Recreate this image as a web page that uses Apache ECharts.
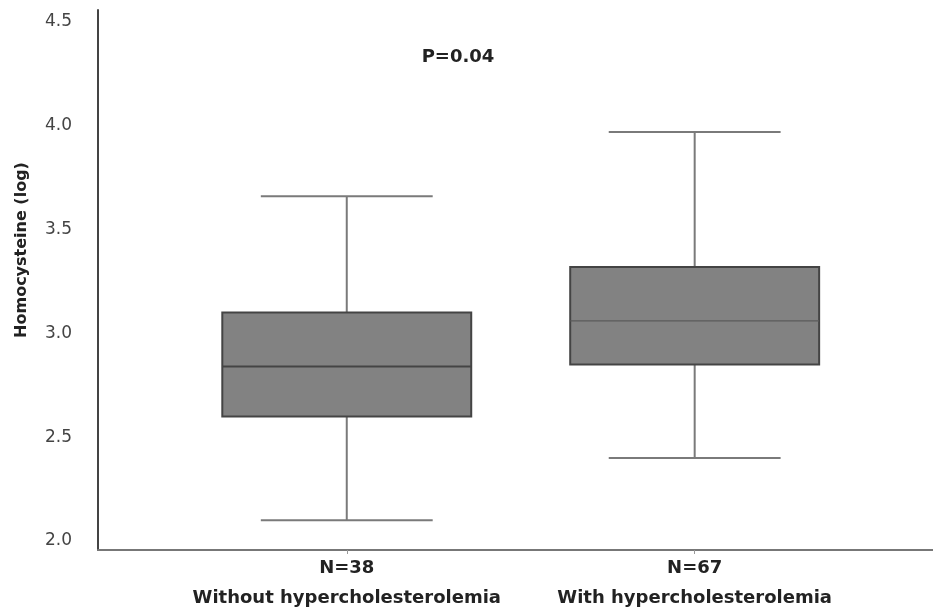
<!DOCTYPE html>
<html>
<head>
<meta charset="utf-8">
<script src="https://cdn.jsdelivr.net/npm/echarts@6/dist/echarts.min.js"></script>
<style>html,body{margin:0;padding:0;background:#fff}#c{width:933px;height:613px}</style>
</head>
<body>
<div id="c"></div>
<script>
// Data
const groups = ['Without hypercholesterolemia', 'With hypercholesterolemia'];
const counts = ['N=38', 'N=67'];
const positions = [1, 2];
// [min, Q1, median, Q3, max]
const boxWithout = [2.10, 2.60, 2.84, 3.10, 3.66];
const boxWith = [2.40, 2.85, 3.06, 3.32, 3.97];
const yTicks = [2.0, 2.5, 3.0, 3.5, 4.0, 4.5];
const pText = 'P=0.04';
const yTitle = 'Homocysteine (log)';

const boxes = [boxWithout, boxWith];
const seriesData = positions.map((p, i) => [p].concat(boxes[i]));

const FONT = 'DejaVu Sans';
const chart = echarts.init(document.getElementById('c'));

const BOX_W = 0.7155;  // x units
const CAP_W = 0.494;

chart.setOption({
  animation: false,
  backgroundColor: '#fff',
  grid: { left: 98, right: 0, top: 10, bottom: 57, containLabel: false },
  xAxis: {
    type: 'value',
    min: 0.285,
    max: 2.685,
    splitLine: { show: false },
    axisLine: { show: true, lineStyle: { color: '#777', width: 2 } },
    axisTick: { show: true, customValues: positions, length: 4, lineStyle: { color: '#999', width: 1 } },
    axisLabel: {
      show: true,
      customValues: positions,
      margin: 3,
      lineHeight: 30,
      fontFamily: FONT,
      fontWeight: 'bold',
      fontSize: 18,
      color: '#222',
      formatter: function (v) {
        const i = positions.indexOf(Math.round(v));
        return i < 0 ? '' : counts[i] + '\n' + groups[i];
      }
    }
  },
  yAxis: {
    type: 'value',
    min: 1.957,
    max: 4.557,
    splitLine: { show: false },
    axisLine: { show: true, lineStyle: { color: '#444', width: 2 } },
    axisTick: { show: false },
    axisLabel: {
      customValues: yTicks,
      margin: 26,
      fontFamily: FONT,
      fontSize: 17,
      color: '#444',
      formatter: function (v) { return Number(v).toFixed(1); }
    }
  },
  graphic: [
    {
      type: 'text', x: 22, y: 250, rotation: Math.PI / 2,
      style: { text: yTitle, fontFamily: FONT, fontWeight: 'bold', fontSize: 16, fill: '#222', textAlign: 'center', textVerticalAlign: 'middle' }
    },
    {
      type: 'text', x: 458, y: 57,
      style: { text: pText, fontFamily: FONT, fontWeight: 'bold', fontSize: 18, fill: '#222', textAlign: 'center', textVerticalAlign: 'middle' }
    }
  ],
  series: [{
    type: 'custom',
    data: seriesData,
    encode: { x: 0, y: [1, 2, 3, 4, 5] },
    renderItem: function (params, api) {
      const x = api.value(0);
      const mn = api.coord([x, api.value(1)]);
      const q1 = api.coord([x, api.value(2)]);
      const md = api.coord([x, api.value(3)]);
      const q3 = api.coord([x, api.value(4)]);
      const mx = api.coord([x, api.value(5)]);
      const bw = api.size([BOX_W, 0])[0];
      const cw = api.size([CAP_W, 0])[0];
      const cx = mn[0];
      const wStyle = { stroke: '#7a7a7a', lineWidth: 2 };
      const medW = params.dataIndex === 0 ? 2 : 1.2;
      const medC = params.dataIndex === 0 ? '#444' : '#5a5a5a';
      return {
        type: 'group',
        children: [
          { type: 'line', shape: { x1: cx, y1: mx[1], x2: cx, y2: q3[1] }, style: wStyle },
          { type: 'line', shape: { x1: cx, y1: q1[1], x2: cx, y2: mn[1] }, style: wStyle },
          { type: 'line', shape: { x1: cx - cw / 2, y1: mx[1], x2: cx + cw / 2, y2: mx[1] }, style: wStyle },
          { type: 'line', shape: { x1: cx - cw / 2, y1: mn[1], x2: cx + cw / 2, y2: mn[1] }, style: wStyle },
          { type: 'rect', shape: { x: cx - bw / 2, y: q3[1], width: bw, height: q1[1] - q3[1] },
            style: { fill: '#828282', stroke: '#444', lineWidth: 2 } },
          { type: 'line', shape: { x1: cx - bw / 2, y1: md[1], x2: cx + bw / 2, y2: md[1] },
            style: { stroke: medC, lineWidth: medW } }
        ]
      };
    }
  }]
});
</script>
</body>
</html>
